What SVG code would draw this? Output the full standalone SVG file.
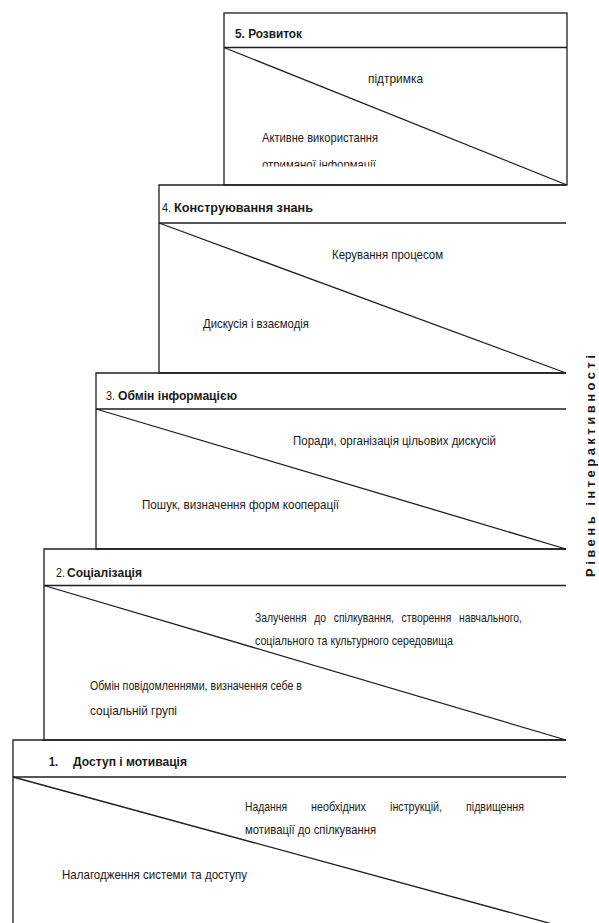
<svg xmlns="http://www.w3.org/2000/svg" width="599" height="923" viewBox="0 0 599 923">
<style>
.ln{fill:none;stroke:#1e1e1e;stroke-width:1.3}
.t{font-family:"Liberation Sans Narrow","Liberation Sans",Arial,sans-serif;font-size:13px;fill:#1a1a1a}
.b{font-weight:bold}
.v{font-family:"Liberation Sans","DejaVu Sans",Arial,sans-serif;font-size:13px;font-weight:bold;fill:#1a1a1a}
</style>
<defs>
<clipPath id="c5"><rect x="224" y="13" width="343" height="153.5"/></clipPath>
</defs>
<rect width="599" height="923" fill="#ffffff"/>

<g id="level5">
<rect class="ln" x="224" y="13" width="343" height="172"/>
<line class="ln" x1="224" y1="47.5" x2="567" y2="47.5"/>
<line class="ln" x1="224" y1="47.5" x2="567" y2="185"/>
<text class="t b" x="235" y="37.5" textLength="67" lengthAdjust="spacingAndGlyphs">5. Розвиток</text>
<text class="t" x="368" y="83" textLength="55" lengthAdjust="spacingAndGlyphs">підтримка</text>
<text class="t" x="262" y="142" textLength="116" lengthAdjust="spacingAndGlyphs">Активне використання</text>
<text class="t" x="262" y="169" textLength="114" lengthAdjust="spacingAndGlyphs" clip-path="url(#c5)">отриманої інформації</text>
</g>

<g id="level4">
<path class="ln" d="M566,185 H159 V373 H566"/>
<line class="ln" x1="159" y1="223" x2="566" y2="223"/>
<line class="ln" x1="159" y1="223" x2="566" y2="373"/>
<text class="t" x="162" y="212" textLength="9" lengthAdjust="spacingAndGlyphs">4.</text>
<text class="t b" x="174" y="212" textLength="139" lengthAdjust="spacingAndGlyphs">Конструювання знань</text>
<text class="t" x="332" y="259" textLength="111" lengthAdjust="spacingAndGlyphs">Керування процесом</text>
<text class="t" x="203" y="328" textLength="106" lengthAdjust="spacingAndGlyphs">Дискусія і взаємодія</text>
</g>

<g id="level3">
<path class="ln" d="M566,373 H96 V549 H566"/>
<line class="ln" x1="96" y1="409" x2="566" y2="409"/>
<line class="ln" x1="96" y1="409" x2="566" y2="549"/>
<text class="t" x="106" y="400" textLength="9" lengthAdjust="spacingAndGlyphs">3.</text>
<text class="t b" x="118" y="400" textLength="119" lengthAdjust="spacingAndGlyphs">Обмін інформацією</text>
<text class="t" x="293" y="445" textLength="203" lengthAdjust="spacingAndGlyphs">Поради, організація цільових дискусій</text>
<text class="t" x="142" y="508.5" textLength="197" lengthAdjust="spacingAndGlyphs">Пошук, визначення форм кооперації</text>
</g>

<g id="level2">
<path class="ln" d="M566,549 H44 V740 H566"/>
<line class="ln" x1="44" y1="585.5" x2="566" y2="585.5"/>
<line class="ln" x1="44" y1="585.5" x2="566" y2="740"/>
<text class="t" x="56" y="577" textLength="9" lengthAdjust="spacingAndGlyphs">2.</text>
<text class="t b" x="67" y="577" textLength="75" lengthAdjust="spacingAndGlyphs">Соціалізація</text>
<text class="t" x="255" y="622" textLength="267" lengthAdjust="spacingAndGlyphs" word-spacing="6">Залучення до спілкування, створення навчального,</text>
<text class="t" x="255" y="645" textLength="198" lengthAdjust="spacingAndGlyphs">соціального та культурного середовища</text>
<text class="t" x="90" y="690" textLength="212" lengthAdjust="spacingAndGlyphs">Обмін повідомленнями, визначення себе в</text>
<text class="t" x="90" y="715" textLength="87" lengthAdjust="spacingAndGlyphs">соціальній групі</text>
</g>

<g id="level1">
<path class="ln" d="M566,740 H13 V923"/>
<line class="ln" x1="13" y1="777" x2="566" y2="777"/>
<line class="ln" x1="13" y1="777" x2="567" y2="928"/>
<text class="t b" x="49" y="766" textLength="9" lengthAdjust="spacingAndGlyphs">1.</text>
<text class="t b" x="73" y="766" textLength="114" lengthAdjust="spacingAndGlyphs">Доступ і мотивація</text>
<text class="t" x="245" y="811" textLength="42" lengthAdjust="spacingAndGlyphs">Надання</text>
<text class="t" x="311" y="811" textLength="55" lengthAdjust="spacingAndGlyphs">необхідних</text>
<text class="t" x="390" y="811" textLength="52" lengthAdjust="spacingAndGlyphs">інструкцій,</text>
<text class="t" x="466" y="811" textLength="58" lengthAdjust="spacingAndGlyphs">підвищення</text>
<text class="t" x="245" y="834" textLength="131" lengthAdjust="spacingAndGlyphs">мотивації до спілкування</text>
<text class="t" x="62" y="879" textLength="185" lengthAdjust="spacingAndGlyphs">Налагодження системи та доступу</text>
</g>

<g id="axis-label">
<text class="v" transform="translate(595,466) rotate(-90)" text-anchor="middle" textLength="222" lengthAdjust="spacing">Рівень інтерактивності</text>
</g>
</svg>
